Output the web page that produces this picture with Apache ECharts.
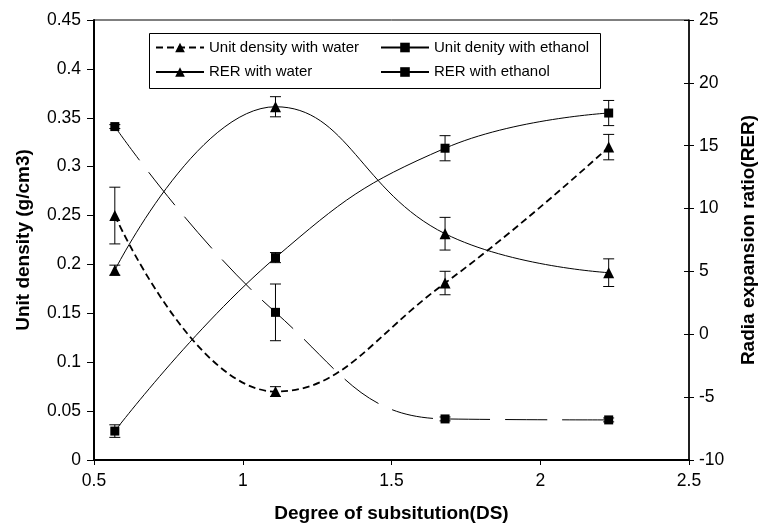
<!DOCTYPE html>
<html>
<head>
<meta charset="utf-8">
<script src="https://cdn.jsdelivr.net/npm/echarts@6/dist/echarts.min.js"></script>
<style>
  html, body { margin: 0; padding: 0; background: #fff; }
  #chart { width: 760px; height: 525px; }
</style>
</head>
<body>
<div id="chart"></div>
<script>
// Degree of substitution (x) for all four series
const dsValues = [0.57, 1.11, 1.68, 2.23];

// Left axis: unit density (g/cm3)
const udWater      = [0.25, 0.07, 0.181, 0.32];
const udWaterErr   = [0.029, 0.005, 0.012, 0.013];
const udEthanol    = [0.341, 0.151, 0.042, 0.041];
const udEthanolErr = [0.002, 0.029, 0.002, 0.002];

// Right axis: radial expansion ratio
const rerWater      = [5.1, 18.1, 8.0, 4.9];
const rerWaterErr   = [0.4, 0.8, 1.3, 1.1];
const rerEthanol    = [-7.7, 6.1, 14.8, 17.6];
const rerEthanolErr = [0.5, 0.4, 1.0, 1.0];

const seriesNames = [
  "Unit density with water",
  "Unit denity with ethanol",
  "RER with water",
  "RER with ethanol",
];

const FONT = "Liberation Sans, Arial, sans-serif";
const INK  = "#000";

const pts  = ys => dsValues.map((x, i) => [x, ys[i]]);
const errs = (ys, es) => dsValues.map((x, i) => [x, ys[i], es[i]]);

function errorBars(params, api) {
  const x = api.value(0), y = api.value(1), e = api.value(2);
  const top = api.coord([x, y + e]);
  const bot = api.coord([x, y - e]);
  const w = 5.5;
  const st = { stroke: INK, lineWidth: 1 };
  return {
    type: "group",
    children: [
      { type: "line", shape: { x1: top[0], y1: top[1], x2: bot[0], y2: bot[1] }, style: st },
      { type: "line", shape: { x1: top[0] - w, y1: top[1], x2: top[0] + w, y2: top[1] }, style: st },
      { type: "line", shape: { x1: bot[0] - w, y1: bot[1], x2: bot[0] + w, y2: bot[1] }, style: st },
    ],
  };
}

const lineSeries = (name, data, yIdx, symbol, size, lineStyle) => ({
  name, type: "line", data: pts(data), yAxisIndex: yIdx,
  smooth: 0.45, symbol, symbolSize: size,
  itemStyle: { color: INK }, lineStyle: Object.assign({ color: INK }, lineStyle),
  z: 3,
});

const errSeries = (data, e, yIdx) => ({
  type: "custom", yAxisIndex: yIdx, data: errs(data, e),
  renderItem: errorBars, z: 2, silent: true,
});

const legendBase = {
  orient: "vertical", top: 39, padding: 0, z: 10,
  itemWidth: 48, itemHeight: 12, itemGap: 7.5,
  textStyle: { fontFamily: FONT, fontSize: 15, color: INK, lineHeight: 17 },
  selectedMode: false,
};

const titleStyle = { fontFamily: FONT, fontSize: 19, fontWeight: "bold", color: INK };
const tickStyle  = { fontFamily: FONT, fontSize: 17.5, color: INK };

const chart = echarts.init(document.getElementById("chart"), null, { renderer: "canvas" });

chart.setOption({
  animation: false,
  backgroundColor: "#fff",
  grid: {
    left: 94, right: 71, top: 20, bottom: 65, outerBoundsMode: "none",
    show: true, borderColor: INK, borderWidth: 1,
  },
  graphic: [{
    type: "rect", z: 1,
    shape: { x: 149.5, y: 33.5, width: 451, height: 55 },
    style: { fill: "#fff", stroke: INK, lineWidth: 1 },
  }],
  legend: [
    Object.assign({ left: 155, data: [seriesNames[0], seriesNames[2]] }, legendBase),
    Object.assign({ left: 380, data: [
      { name: seriesNames[1], lineStyle: { type: "solid" } },
      seriesNames[3],
    ] }, legendBase),
  ],
  xAxis: {
    type: "value", min: 0.5, max: 2.5, interval: 0.5,
    name: "Degree of subsitution(DS)", nameLocation: "middle", nameGap: 44,
    nameTextStyle: titleStyle,
    axisLine: { lineStyle: { color: INK, width: 2 } },
    axisTick: { length: 5, lineStyle: { color: INK } },
    axisLabel: Object.assign({ margin: 12 }, tickStyle),
    splitLine: { show: false },
  },
  yAxis: [
    {
      type: "value", min: 0, max: 0.45, interval: 0.05, position: "left",
      name: "Unit density (g/cm3)", nameLocation: "middle", nameGap: 61,
      nameTextStyle: titleStyle,
      axisLine: { show: true, lineStyle: { color: INK, width: 2 } },
      axisTick: { length: 7, lineStyle: { color: INK } },
      axisLabel: Object.assign({ margin: 13, formatter: v => String(+v.toFixed(2)) }, tickStyle),
      splitLine: { show: false },
    },
    {
      type: "value", min: -10, max: 25, interval: 5, position: "right",
      name: "Radia expansion ratio(RER)", nameLocation: "middle", nameGap: 50, nameRotate: 90,
      nameTextStyle: titleStyle,
      axisLine: { show: true, lineStyle: { color: INK, width: 1.5 } },
      axisTick: { length: 5, lineStyle: { color: INK } },
      axisLabel: Object.assign({ margin: 10 }, tickStyle),
      splitLine: { show: false },
    },
    {
      // inner half of the crossing ticks on the right axis
      type: "value", min: -10, max: 25, interval: 5, position: "right",
      axisLine: { show: false },
      axisTick: { inside: true, length: 5, lineStyle: { color: INK } },
      axisLabel: { show: false },
      splitLine: { show: false },
    },
  ],
  series: [
    lineSeries(seriesNames[0], udWater, 0, "triangle", 11, { width: 1.8, type: [7, 4] }),
    lineSeries(seriesNames[1], udEthanol, 0, "rect", 9, { width: 1, type: [42, 15] }),
    lineSeries(seriesNames[2], rerWater, 1, "triangle", 11, { width: 1 }),
    lineSeries(seriesNames[3], rerEthanol, 1, "rect", 9, { width: 1 }),
    errSeries(udWater, udWaterErr, 0),
    errSeries(udEthanol, udEthanolErr, 0),
    errSeries(rerWater, rerWaterErr, 1),
    errSeries(rerEthanol, rerEthanolErr, 1),
  ],
});
</script>
</body>
</html>
